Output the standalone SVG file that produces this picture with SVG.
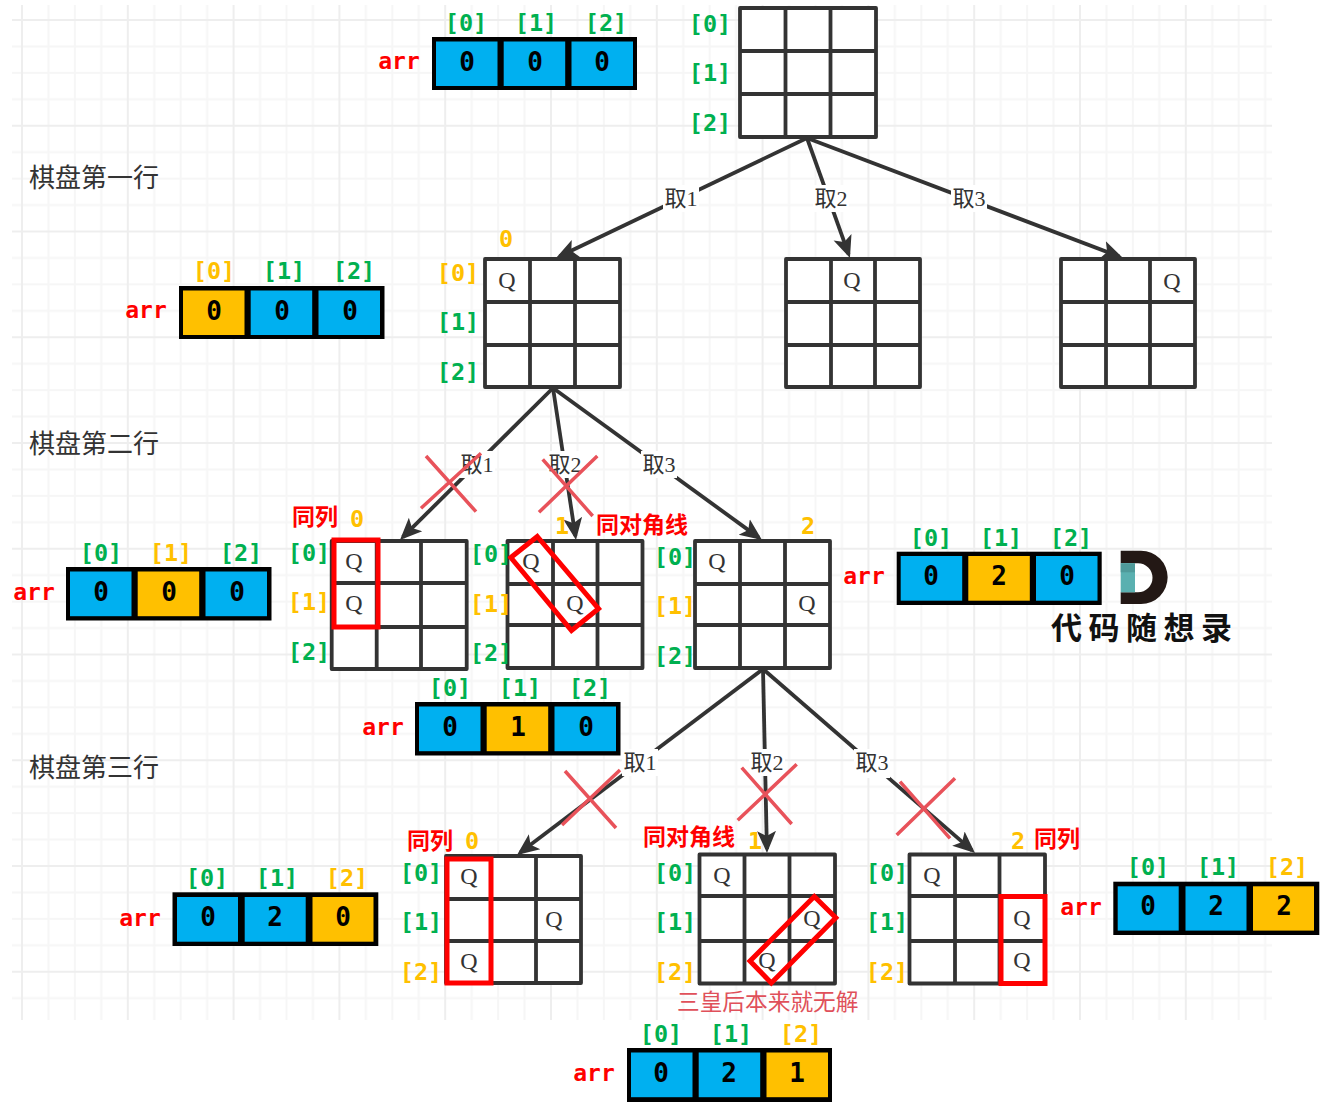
<svg xmlns="http://www.w3.org/2000/svg" width="1321" height="1105" viewBox="0 0 1321 1105">
<style>
text{font-family:"Liberation Serif","Noto Sans CJK SC",serif}
.cell{fill:#fff;stroke:#333;stroke-width:3.8;stroke-linejoin:round}
.grid{fill:none;stroke:#333;stroke-width:3.8}
.q{font-size:24px;fill:#333;text-anchor:middle}
.idx{font-family:"DejaVu Sans Mono",monospace;font-weight:700;font-size:23.5px;text-anchor:middle}
.g{fill:#00B050}.o{fill:#FFC000}
.num{font-family:"DejaVu Sans Mono",monospace;font-weight:700;font-size:26px;text-anchor:middle;fill:#000}
.arr{font-family:"DejaVu Sans Mono",monospace;font-weight:700;font-size:23px;text-anchor:middle;fill:#f00}
.frame{fill:#000}.b{fill:#00B0F0}.y{fill:#FFC000}
.red{font-family:"Noto Sans CJK SC",sans-serif;font-weight:700;font-size:23px;fill:#f00}
.hit{fill:none;stroke:#f00;stroke-width:5}
.edge{fill:none;stroke:#333;stroke-width:3.8;marker-end:url(#ah)}
.lb{fill:#fff}
.lt{font-size:22px;fill:#333;text-anchor:middle}
.row{font-size:26px;fill:#333}
.x{fill:none;stroke:#E8525A;stroke-width:3.5}
</style>
<defs>
<marker id="ah" markerUnits="userSpaceOnUse" markerWidth="30" markerHeight="26" refX="18" refY="13" orient="auto"><path d="M0,3.5 L22,13 L0,22.5 L5,13 z" fill="#333"/></marker>
<pattern id="gp" patternUnits="userSpaceOnUse" x="21" y="19" width="105.8" height="105.75">
<path d="M27.45,0V105.75M53.9,0V105.75M80.35,0V105.75M0,27.45H105.8M0,53.9H105.8M0,80.35H105.8" stroke="#f6f6f6" stroke-width="2" fill="none"/>
<path d="M1,0V105.75M0,1H105.8" stroke="#eeeeee" stroke-width="2" fill="none"/>
</pattern>
</defs>
<rect width="1321" height="1105" fill="#fff"/>
<rect id="background-grid" x="12" y="5" width="1260" height="1015" fill="url(#gp)"/>

<g id="row-labels">
<text class="row" x="29" y="187">棋盘第一行</text>
<text class="row" x="29" y="453">棋盘第二行</text>
<text class="row" x="29" y="777">棋盘第三行</text>
</g>

<g id="connectors">
<path class="edge" d="M807,138L559.6,256.3"/>
<path class="edge" d="M807,138L848.6,254.2"/>
<path class="edge" d="M807,138L1119.3,256.6"/>
<path class="edge" d="M553,388L402.8,537.2"/>
<path class="edge" d="M553,388L575.4,536"/>
<path class="edge" d="M553,388L758.8,537.6"/>
<path class="edge" d="M763,669L520.2,852.6"/>
<path class="edge" d="M763,669L766.9,849"/>
<path class="edge" d="M763,669L972,850.4"/>
<rect class="lb" x="663" y="185" width="36" height="27"/><text class="lt" x="681" y="206">取1</text>
<rect class="lb" x="813" y="185" width="36" height="27"/><text class="lt" x="831" y="206">取2</text>
<rect class="lb" x="951" y="185" width="36" height="27"/><text class="lt" x="969" y="206">取3</text>
<rect class="lb" x="459" y="451" width="36" height="27"/><text class="lt" x="477" y="472">取1</text>
<rect class="lb" x="547" y="451" width="36" height="27"/><text class="lt" x="565" y="472">取2</text>
<rect class="lb" x="641" y="451" width="36" height="27"/><text class="lt" x="659" y="472">取3</text>
<rect class="lb" x="622" y="749" width="36" height="27"/><text class="lt" x="640" y="770">取1</text>
<rect class="lb" x="749" y="749" width="36" height="27"/><text class="lt" x="767" y="770">取2</text>
<rect class="lb" x="854" y="749" width="36" height="29"/><text class="lt" x="872" y="770">取3</text>
</g>

<g id="board-0">
<rect class="cell" x="740" y="8" width="136" height="129"/>
<path class="grid" d="M785.5,8V137M830.5,8V137M740,51H876M740,94H876"/>
<text class="idx g" x="710" y="32">[0]</text><text class="idx g" x="710" y="81">[1]</text><text class="idx g" x="710" y="131">[2]</text>
</g>
<g id="board-1">
<rect class="cell" x="485" y="259" width="135" height="128"/>
<path class="grid" d="M530,259V387M575,259V387M485,302H620M485,345H620"/>
<text class="q" x="507" y="288">Q</text>
<text class="idx o" x="458" y="281">[0]</text><text class="idx g" x="458" y="330">[1]</text><text class="idx g" x="458" y="380">[2]</text>
<text class="idx o" x="506" y="247">0</text>
</g>
<g id="board-2">
<rect class="cell" x="786" y="259" width="134" height="128"/>
<path class="grid" d="M831,259V387M875,259V387M786,302H920M786,345H920"/>
<text class="q" x="852" y="288">Q</text>
</g>
<g id="board-3">
<rect class="cell" x="1061" y="259" width="134" height="128"/>
<path class="grid" d="M1106,259V387M1150,259V387M1061,302H1195M1061,345H1195"/>
<text class="q" x="1172" y="289">Q</text>
</g>
<g id="board-4">
<rect class="cell" x="331.7" y="541" width="135" height="128"/>
<path class="grid" d="M376.7,541V669M421,541V669M331.7,583H466.7M331.7,627H466.7"/>
<text class="q" x="354" y="569">Q</text><text class="q" x="354" y="611">Q</text>
<rect class="hit" x="334" y="540" width="44" height="87"/>
<text class="idx g" x="309" y="561">[0]</text><text class="idx o" x="309" y="610">[1]</text><text class="idx g" x="309" y="660">[2]</text>
<text class="idx o" x="357" y="527">0</text>
<text class="red" x="292" y="525">同列</text>
</g>
<g id="board-5">
<rect class="cell" x="507.5" y="541" width="135" height="127"/>
<path class="grid" d="M553,541V668M597.5,541V668M507.5,584H642.5M507.5,625H642.5"/>
<text class="q" x="531" y="569">Q</text><text class="q" x="575" y="611">Q</text>
<polygon class="hit" points="537.3,536.5 598.5,608.7 571.5,630.5 510.8,557.5"/>
<text class="idx g" x="491" y="562">[0]</text><text class="idx o" x="491" y="612">[1]</text><text class="idx g" x="491" y="661">[2]</text>
<text class="idx o" x="562" y="534">1</text>
<text class="red" x="596" y="533">同对角线</text>
</g>
<g id="board-6">
<rect class="cell" x="695" y="541" width="135" height="127"/>
<path class="grid" d="M740,541V668M785,541V668M695,584H830M695,625H830"/>
<text class="q" x="717" y="569">Q</text><text class="q" x="807" y="611">Q</text>
<text class="idx g" x="675" y="565">[0]</text><text class="idx o" x="675" y="614">[1]</text><text class="idx g" x="675" y="664">[2]</text>
<text class="idx o" x="808" y="534">2</text>
</g>
<g id="board-7">
<rect class="cell" x="446" y="856" width="135" height="127"/>
<path class="grid" d="M491,856V983M536,856V983M446,899H581M446,941H581"/>
<text class="q" x="469" y="884">Q</text><text class="q" x="554" y="927">Q</text><text class="q" x="469" y="969">Q</text>
<rect class="hit" x="447" y="859" width="44" height="124"/>
<text class="idx g" x="421" y="881">[0]</text><text class="idx g" x="421" y="930">[1]</text><text class="idx o" x="421" y="980">[2]</text>
<text class="idx o" x="472" y="849">0</text>
<text class="red" x="407" y="849">同列</text>
</g>
<g id="board-8">
<rect class="cell" x="699.5" y="854.5" width="135.5" height="129"/>
<path class="grid" d="M744.5,854.5V983.5M789.5,854.5V983.5M699.5,896H835M699.5,941H835"/>
<text class="q" x="722" y="883">Q</text><text class="q" x="812" y="926">Q</text><text class="q" x="767" y="968">Q</text>
<polygon class="hit" points="814.3,896.5 835.8,917.7 771.3,983 750,961"/>
<text class="idx g" x="675" y="881">[0]</text><text class="idx g" x="675" y="930">[1]</text><text class="idx o" x="675" y="980">[2]</text>
<text class="idx o" x="755" y="849">1</text>
<text class="red" x="643" y="845">同对角线</text>
<text x="677" y="1010" font-size="22.7" fill="#E0505A">三皇后本来就无解</text>
</g>
<g id="board-9">
<rect class="cell" x="909.5" y="854.5" width="135.5" height="129"/>
<path class="grid" d="M955,854.5V983.5M999.5,854.5V983.5M909.5,896H1045M909.5,941H1045"/>
<text class="q" x="932" y="883">Q</text><text class="q" x="1022" y="926">Q</text><text class="q" x="1022" y="968">Q</text>
<rect class="hit" x="1001" y="896.5" width="44" height="87"/>
<text class="idx g" x="887" y="881">[0]</text><text class="idx g" x="887" y="930">[1]</text><text class="idx o" x="887" y="980">[2]</text>
<text class="idx o" x="1018" y="849">2</text>
<text class="red" x="1034" y="847">同列</text>
</g>

<g id="crosses">
<path class="x" d="M426,456L476,511.7M481,453.3L421,508.3"/>
<path class="x" d="M542.7,459.3L592.7,516M597.3,456L539,512.3"/>
<path class="x" d="M565,771L616,828M620,770L562,825"/>
<path class="x" d="M741.7,767.7L791.7,824M796.7,764.3L737.7,820.3"/>
<path class="x" d="M900,781.7L950,838.3M955,778.3L896.7,835"/>
</g>

<g id="arr-a">
<rect class="frame" x="432" y="37" width="205" height="53"/>
<rect class="b" x="436" y="41.5" width="61.5" height="44.5"/><rect class="b" x="503.7" y="41.5" width="61.5" height="44.5"/><rect class="b" x="571.5" y="41.5" width="61.5" height="44.5"/>
<text class="num" x="467" y="71">0</text><text class="num" x="535" y="71">0</text><text class="num" x="602" y="71">0</text>
<text class="arr" x="399" y="69">arr</text>
<text class="idx g" x="466" y="31">[0]</text><text class="idx g" x="536" y="31">[1]</text><text class="idx g" x="606" y="31">[2]</text>
</g>
<g id="arr-b">
<rect class="frame" x="179" y="286" width="205.5" height="53"/>
<rect class="y" x="183" y="290.5" width="61.5" height="44.5"/><rect class="b" x="250.7" y="290.5" width="61.5" height="44.5"/><rect class="b" x="318.5" y="290.5" width="61.5" height="44.5"/>
<text class="num" x="214" y="320">0</text><text class="num" x="282" y="320">0</text><text class="num" x="350" y="320">0</text>
<text class="arr" x="146" y="318">arr</text>
<text class="idx o" x="214" y="279">[0]</text><text class="idx g" x="284" y="279">[1]</text><text class="idx g" x="354" y="279">[2]</text>
</g>
<g id="arr-c">
<rect class="frame" x="66" y="567" width="205.5" height="53.5"/>
<rect class="b" x="70" y="571.5" width="61.5" height="44.7"/><rect class="y" x="137.7" y="571.5" width="61.5" height="44.7"/><rect class="b" x="205.5" y="571.5" width="61.5" height="44.7"/>
<text class="num" x="101" y="601">0</text><text class="num" x="169" y="601">0</text><text class="num" x="237" y="601">0</text>
<text class="arr" x="34" y="600">arr</text>
<text class="idx g" x="101" y="561">[0]</text><text class="idx o" x="171" y="561">[1]</text><text class="idx g" x="241" y="561">[2]</text>
</g>
<g id="arr-d">
<rect class="frame" x="896.7" y="551.7" width="205" height="53.3"/>
<rect class="b" x="900.7" y="556" width="61.5" height="44.7"/><rect class="y" x="968.3" y="556" width="61.5" height="44.7"/><rect class="b" x="1036" y="556" width="61.5" height="44.7"/>
<text class="num" x="931" y="585">0</text><text class="num" x="999" y="585">2</text><text class="num" x="1067" y="585">0</text>
<text class="arr" x="864" y="584">arr</text>
<text class="idx g" x="931" y="546">[0]</text><text class="idx g" x="1001" y="546">[1]</text><text class="idx g" x="1071" y="546">[2]</text>
</g>
<g id="arr-e">
<rect class="frame" x="415" y="702" width="205.5" height="53.5"/>
<rect class="b" x="419" y="706.5" width="61.5" height="44.7"/><rect class="y" x="486.7" y="706.5" width="61.5" height="44.7"/><rect class="b" x="554.5" y="706.5" width="61.5" height="44.7"/>
<text class="num" x="450" y="736">0</text><text class="num" x="518" y="736">1</text><text class="num" x="586" y="736">0</text>
<text class="arr" x="383" y="735">arr</text>
<text class="idx g" x="450" y="696">[0]</text><text class="idx g" x="520" y="696">[1]</text><text class="idx g" x="590" y="696">[2]</text>
</g>
<g id="arr-f">
<rect class="frame" x="172.5" y="892.3" width="205.8" height="53.7"/>
<rect class="b" x="177" y="897" width="61" height="44.7"/><rect class="b" x="244.7" y="897" width="61" height="44.7"/><rect class="y" x="312.5" y="897" width="61" height="44.7"/>
<text class="num" x="208" y="926">0</text><text class="num" x="275" y="926">2</text><text class="num" x="343" y="926">0</text>
<text class="arr" x="140" y="926">arr</text>
<text class="idx g" x="207" y="886">[0]</text><text class="idx g" x="277" y="886">[1]</text><text class="idx o" x="347" y="886">[2]</text>
</g>
<g id="arr-g">
<rect class="frame" x="1113.3" y="881.7" width="206" height="53.3"/>
<rect class="b" x="1117.7" y="886.3" width="61" height="44.3"/><rect class="b" x="1185.5" y="886.3" width="61" height="44.3"/><rect class="y" x="1253" y="886.3" width="61" height="44.3"/>
<text class="num" x="1148" y="915">0</text><text class="num" x="1216" y="915">2</text><text class="num" x="1284" y="915">2</text>
<text class="arr" x="1081" y="915">arr</text>
<text class="idx g" x="1148" y="875">[0]</text><text class="idx g" x="1218" y="875">[1]</text><text class="idx o" x="1287" y="875">[2]</text>
</g>
<g id="arr-h">
<rect class="frame" x="627" y="1048" width="205" height="54"/>
<rect class="b" x="631" y="1052.5" width="61.5" height="44.7"/><rect class="b" x="698.7" y="1052.5" width="61.5" height="44.7"/><rect class="y" x="766.5" y="1052.5" width="61.5" height="44.7"/>
<text class="num" x="661" y="1082">0</text><text class="num" x="729" y="1082">2</text><text class="num" x="797" y="1082">1</text>
<text class="arr" x="594" y="1081">arr</text>
<text class="idx g" x="661" y="1042">[0]</text><text class="idx g" x="731" y="1042">[1]</text><text class="idx o" x="801" y="1042">[2]</text>
</g>

<g id="logo">
<path d="M1120.7,550.7H1141A26.6,26.6 0 0 1 1141,604H1120.7V592.3H1138A14.5,14.5 0 0 0 1138,563.3H1120.7Z" fill="#231815"/>
<rect x="1120.7" y="563.3" width="14.3" height="29" fill="#5AB0B0"/>
<rect x="1120.7" y="563.3" width="14.3" height="9" fill="#4F9A9A"/>
<text x="1051" y="639" font-size="31" font-weight="700" letter-spacing="6.5" fill="#111" style="font-family:'Noto Sans CJK SC',sans-serif">代码随想录</text>
</g>
</svg>
